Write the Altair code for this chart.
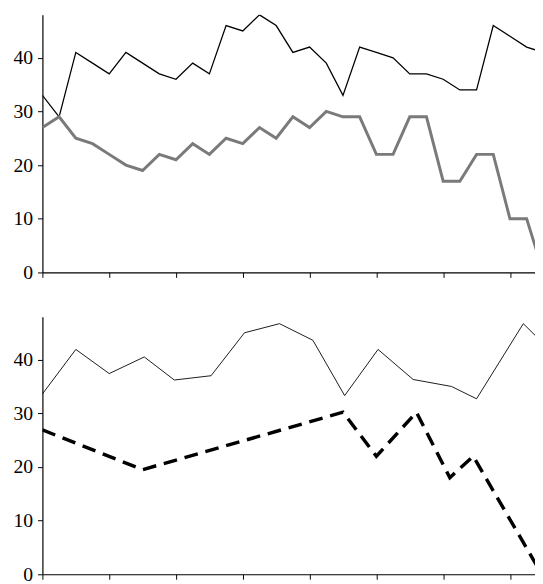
import altair as alt
import pandas as pd

# top panel: value at every integer step
top_x = list(range(31))
top_black = [33, 29, 41, 39, 37, 41, 39, 37, 36, 39, 37, 46, 45, 48, 46, 41,
             42, 39, 33, 42, 41, 40, 37, 37, 36, 34, 34, 46, 44, 42, 41]
top_gray = [27, 29, 25, 24, 22, 20, 19, 22, 21, 24, 22, 25, 24, 27, 25, 29,
            27, 30, 29, 29, 22, 22, 29, 29, 17, 17, 22, 22, 10, 10, 0]

# bottom panel
bot_thin_x = [0, 2, 4, 6.1, 7.9, 10.1, 12.1, 14.2, 16.2, 18.1, 20.1, 22.2, 24.5, 26, 28.8, 30]
bot_thin = [33.6, 41.9, 37.4, 40.5, 36.2, 37, 45, 46.7, 43.6, 33.3, 41.9, 36.3, 35, 32.7, 46.7, 43]
bot_dash_x = [0, 6, 18, 20, 22.4, 24.4, 25.8, 30]
bot_dash = [26.9, 19.5, 30.2, 22, 30.2, 18, 22, -0.5]

FONT = "Liberation Serif"
W, H = 501, 262

xdom = alt.Scale(domain=[0, 29.5], nice=False, zero=False)
ydom = alt.Scale(domain=[0, 48], nice=False)


def x_axis(step):
    return alt.Axis(values=[i * step for i in range(int(30 / step) + 1)], labels=False,
                    title=None, grid=False, domainColor="black", tickColor="black",
                    tickSize=5, domainWidth=1.2)


y_axis = alt.Axis(values=list(range(0, 50, 5)), labelExpr="datum.value % 10 == 0 ? datum.label : ''",
                  title=None, grid=False, domainColor="black", tickColor="black", tickSize=5,
                  labelFont=FONT, labelFontSize=20, labelColor="black", labelPadding=5,
                  domainWidth=1.2)

top_df = pd.DataFrame({"x": top_x, "black": top_black, "gray": top_gray})
top_base = alt.Chart(top_df)
top = alt.layer(
    top_base.mark_line(color="black", strokeWidth=1.3, clip=True).encode(
        x=alt.X("x:Q", scale=xdom, axis=x_axis(1)), y=alt.Y("black:Q", scale=ydom, axis=y_axis)),
    top_base.mark_line(color="#7a7a7a", strokeWidth=3, clip=True).encode(
        x="x:Q", y="gray:Q"),
).properties(width=W, height=H)

thin_df = pd.DataFrame({"x": bot_thin_x, "y": bot_thin})
dash_df = pd.DataFrame({"x": bot_dash_x, "y": bot_dash})
bottom = alt.layer(
    alt.Chart(thin_df).mark_line(color="black", strokeWidth=0.9, clip=True).encode(
        x=alt.X("x:Q", scale=xdom, axis=x_axis(2)), y=alt.Y("y:Q", scale=ydom, axis=y_axis)),
    alt.Chart(dash_df).mark_line(color="black", strokeWidth=3.5, strokeDash=[14, 8], clip=True).encode(
        x="x:Q", y="y:Q"),
).properties(width=W, height=H)

chart = alt.vconcat(top, bottom, spacing=35).properties(
    padding={"left": 5, "top": 2, "right": 0, "bottom": 0}
).configure_view(stroke=None)

chart.save("out.html", embed_options={"renderer": "svg", "actions": False})
